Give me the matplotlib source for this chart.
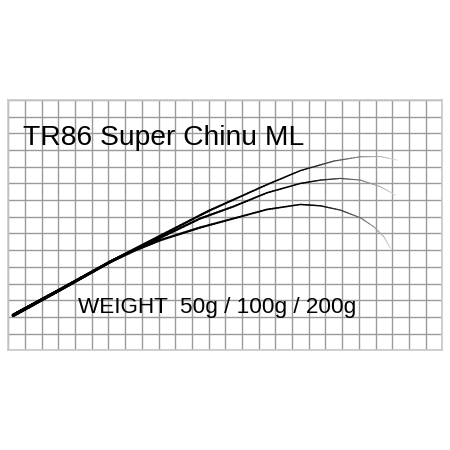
import numpy as np
import matplotlib
matplotlib.use("Agg")
import matplotlib.pyplot as plt
from matplotlib.collections import LineCollection

# ---- data (grid-cell units, origin at bottom-left of the grid) ----
title = "TR86 Super Chinu ML"
weight_label = "WEIGHT  50g / 100g / 200g"
n_cols, n_rows = 26, 15

# shared butt section
butt_x = [0.30, 3.10, 6.10]
butt_y = [2.10, 3.63, 5.30]

# 50g curve
c50_x = [7.60, 9.10, 11.50, 12.10, 13.50, 15.50, 17.50, 19.50, 21.10, 22.30, 23.30]
c50_y = [6.08, 6.86, 8.10, 8.40, 9.03, 9.93, 10.77, 11.34, 11.60, 11.61, 11.40]
# 100g curve
c100_x = [7.60, 9.10, 11.50, 13.50, 15.50, 17.50, 18.70, 19.90, 21.10, 22.30, 23.20]
c100_y = [6.05, 6.75, 7.90, 8.62, 9.44, 10.00, 10.20, 10.30, 10.20, 9.80, 9.30]
# 200g curve
c200_x = [7.60, 9.10, 11.50, 13.50, 15.50, 17.50, 18.70, 19.90, 21.10, 21.90, 22.50, 22.90]
c200_y = [6.00, 6.60, 7.36, 7.90, 8.44, 8.74, 8.66, 8.40, 7.94, 7.40, 6.80, 6.10]

curves = [(c50_x, c50_y, 0.76), (c100_x, c100_y, 0.78), (c200_x, c200_y, 0.78)]

# ---- figure ----
fig = plt.figure(figsize=(4.5, 4.5), dpi=100)
W = H = 450.0
left_px, right_px, top_px, bottom_px = 8.3, 442.3, 100.0, 350.3
ax = fig.add_axes([left_px / W, (H - bottom_px) / H,
                   (right_px - left_px) / W, (bottom_px - top_px) / H])
ax.set_xlim(0, n_cols)
ax.set_ylim(0, n_rows)
ax.set_xticks(np.arange(0, n_cols + 1))
ax.set_yticks(np.arange(0, n_rows + 1))
ax.tick_params(length=0, labelbottom=False, labelleft=False)
ax.grid(True, color="#9a9a9a", linewidth=1.0)
for s in ax.spines.values():
    s.set_color("#c8c8c8")
    s.set_linewidth(1.2)
ax.set_axisbelow(True)

for cx, cy, t0 in curves:
    xs = np.array(butt_x + cx)
    ys = np.array(butt_y + cy)
    # subdivide each straight segment (geometry unchanged) for gradient styling
    segs, params = [], []
    seglen = np.hypot(np.diff(xs), np.diff(ys))
    L = seglen.sum()
    s0 = 0.0
    for i in range(len(xs) - 1):
        k = 12
        for j in range(k):
            a, b = j / k, (j + 1) / k
            p0 = (xs[i] + (xs[i + 1] - xs[i]) * a, ys[i] + (ys[i + 1] - ys[i]) * a)
            p1 = (xs[i] + (xs[i + 1] - xs[i]) * b, ys[i] + (ys[i + 1] - ys[i]) * b)
            segs.append([p0, p1])
            params.append((s0 + seglen[i] * (a + b) / 2) / L)
        s0 += seglen[i]
    params = np.array(params)
    lw = 2.4 - 1.8 * params
    g = np.clip((params - t0) / (1 - t0), 0, 1) ** 1.1 * 0.85
    colors = [(v, v, v, 1.0) for v in g]
    lc = LineCollection(segs, colors=colors, linewidths=lw, capstyle="round",
                        joinstyle="round", zorder=3)
    ax.add_collection(lc)

font = ["Liberation Sans", "DejaVu Sans"]
ax.text(0.86, 12.30, title, family=font, fontsize=20.3, color="black",
        ha="left", va="baseline", zorder=4)
ax.text(4.16, 2.235, weight_label, family=font, fontsize=16.2, color="black",
        ha="left", va="baseline", zorder=4)

fig.savefig("out.png", dpi=100, facecolor="white")
